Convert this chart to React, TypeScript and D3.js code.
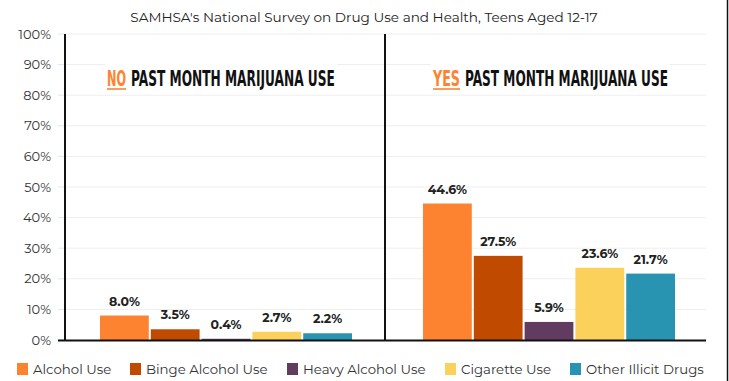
import React, { useLayoutEffect, useRef } from "react";
import * as d3 from "d3";

const groups = ["NO", "YES"];
const categories = ["Alcohol Use", "Binge Alcohol Use", "Heavy Alcohol Use", "Cigarette Use", "Other Illicit Drugs"];
const noValues = [8.0, 3.5, 0.4, 2.7, 2.2];
const yesValues = [44.6, 27.5, 5.9, 23.6, 21.7];
const colors = ["#fd8330", "#bf4a00", "#623c60", "#fbd05b", "#2994b2"];
const yTicks = [0, 10, 20, 30, 40, 50, 60, 70, 80, 90, 100];
const title = "SAMHSA's National Survey on Drug Use and Health, Teens Aged 12-17";
const headerRest = "PAST MONTH MARIJUANA USE";

const W = 729, H = 381;
const plotLeft = 65, plotRight = 706, divider = 385;
const FONT = "Montserrat, 'Noto Sans', 'Open Sans', sans-serif";
const COND = "'Liberation Sans Narrow', 'DejaVu Sans Condensed', 'Roboto Condensed', 'DejaVu Sans', sans-serif";

const headerLayout = [
  { kx: 107, kw: 19, rx: 131, rw: 204 },
  { kx: 433, kw: 27, rx: 465, rw: 203 },
];

function FitText(props: { x: number; y: number; w: number; fill: string; children: string }) {
  const ref = useRef<SVGTextElement>(null);
  const gref = useRef<SVGGElement>(null);
  useLayoutEffect(() => {
    if (!ref.current || !gref.current) return;
    const nat = ref.current.getComputedTextLength();
    const s = nat > 0 ? props.w / nat : 1;
    gref.current.setAttribute("transform", `translate(${props.x},${props.y}) scale(${s},1)`);
  });
  return (
    <g ref={gref} transform={`translate(${props.x},${props.y})`}>
      <text ref={ref} x={0} y={0} fontFamily={COND} fontWeight="bold" fontSize={22} fill={props.fill}>{props.children}</text>
    </g>
  );
}

export default function App() {
  const y = d3.scaleLinear().domain([0, 100]).range([340, 34]);
  const panels = d3.scaleOrdinal<string, [number, number]>().domain(groups).range([[100, 352], [423, 675]]);
  const allValues = [noValues, yesValues];
  const legendX = [17, 130, 287, 445, 570];

  return (
    <svg width={W} height={H} style={{ position: "absolute", left: 0, top: 0, background: "#fff" }}>
      <text x={364} y={22} textAnchor="middle" fontFamily={FONT} fontSize={13.6} fill="#222">{title}</text>
      {yTicks.map((t) => (
        <g key={t}>
          {t > 0 && <line x1={plotLeft} x2={plotRight} y1={y(t)} y2={y(t)} stroke="#eeeeee" strokeWidth={1} />}
          <line x1={58} x2={plotLeft} y1={y(t)} y2={y(t)} stroke="#e6e6e6" strokeWidth={1} />
          <text x={51} y={y(t) + 4.5} textAnchor="end" fontFamily={FONT} fontSize={13} fill="#333">{t}%</text>
        </g>
      ))}
      {groups.map((g, gi) => {
        const x = d3.scaleBand<string>().domain(categories).range(panels(g)).paddingInner(0.04);
        const vals = allValues[gi];
        const L = headerLayout[gi];
        return (
          <g key={g}>
            <rect x={L.kx - 2} y={64} width={L.rx + L.rw - L.kx + 4} height={28} fill="#fff" />
            <FitText x={L.kx} y={86} w={L.kw} fill="#fd8330">{g}</FitText>
            <line x1={L.kx} x2={L.kx + L.kw} y1={89} y2={89} stroke="#fd8330" strokeWidth={1.6} />
            <FitText x={L.rx} y={86} w={L.rw} fill="#111">{headerRest}</FitText>
            {categories.map((c, i) => (
              <g key={c}>
                <rect x={x(c)} y={y(vals[i])} width={x.bandwidth()} height={y(0) - y(vals[i])} fill={colors[i]} />
                <text x={(x(c) as number) + x.bandwidth() / 2} y={y(vals[i]) - 10} textAnchor="middle" fontFamily={FONT} fontWeight="bold" fontSize={12.5} fill="#222">
                  {vals[i].toFixed(1)}%
                </text>
              </g>
            ))}
          </g>
        );
      })}
      <line x1={plotLeft} x2={plotLeft} y1={34} y2={341} stroke="#111" strokeWidth={2} />
      <line x1={divider} x2={divider} y1={34} y2={341} stroke="#111" strokeWidth={2} />
      <line x1={58} x2={plotRight} y1={340.5} y2={340.5} stroke="#111" strokeWidth={2} />
      <line x1={727.5} x2={727.5} y1={0} y2={H} stroke="#111" strokeWidth={1.5} />
      {categories.map((c, i) => (
        <g key={c}>
          <rect x={legendX[i]} y={363} width={11} height={12} fill={colors[i]} />
          <text x={legendX[i] + 16} y={374} fontFamily={FONT} fontSize={13.3} fill="#333">{c}</text>
        </g>
      ))}
    </svg>
  );
}
